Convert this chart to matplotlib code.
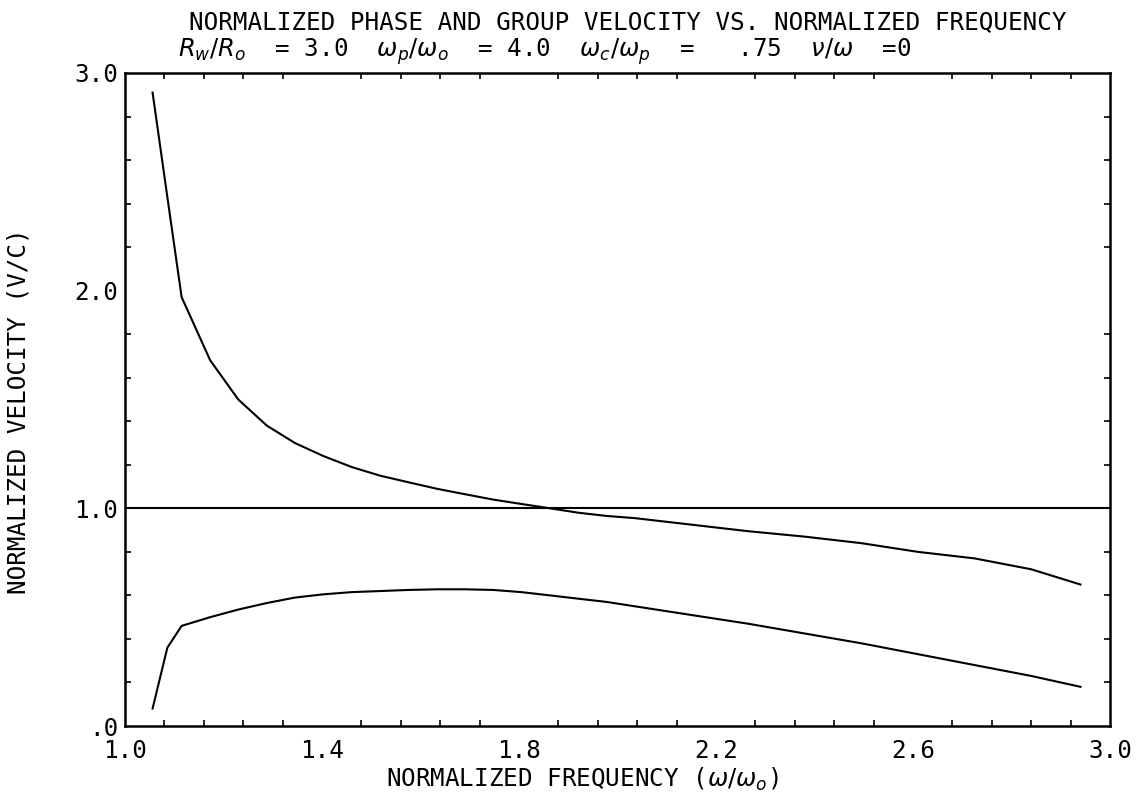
import matplotlib
matplotlib.use("Agg")
import matplotlib.pyplot as plt
import numpy as np

# normalized frequency (w/w0) and the two velocity curves
freq = [1.056, 1.086, 1.115, 1.173, 1.230, 1.288, 1.345, 1.403, 1.460, 1.518,
        1.575, 1.633, 1.690, 1.748, 1.805, 1.863, 1.920, 1.978, 2.035, 2.150,
        2.265, 2.380, 2.495, 2.610, 2.725, 2.840, 2.940]
phase_v = [2.91, 2.43, 1.97, 1.68, 1.50, 1.38, 1.30, 1.24, 1.19, 1.15,
           1.12, 1.09, 1.065, 1.04, 1.02, 1.00, 0.98, 0.965, 0.955, 0.925,
           0.895, 0.87, 0.84, 0.80, 0.77, 0.72, 0.65]
group_v = [0.08, 0.36, 0.46, 0.50, 0.535, 0.565, 0.59, 0.605, 0.615, 0.62,
           0.625, 0.628, 0.628, 0.625, 0.615, 0.60, 0.585, 0.57, 0.55, 0.51,
           0.47, 0.425, 0.38, 0.33, 0.28, 0.23, 0.18]

xticks = [1.0, 1.4, 1.8, 2.2, 2.6, 3.0]
xticklabels = ["1.0", "1.4", "1.8", "2.2", "2.6", "3.0"]
yticks = [0.0, 1.0, 2.0, 3.0]
yticklabels = [".0", "1.0", "2.0", "3.0"]

plt.rcParams["font.family"] = ["DejaVu Sans Mono"]
plt.rcParams["mathtext.fontset"] = "dejavusans"
fs = 17.5

fig = plt.figure(figsize=(11.39, 7.99), dpi=100)
ax = fig.add_axes([125 / 1139, 1 - 726 / 799, (1110 - 125) / 1139, (726 - 73) / 799])

ax.plot(freq, phase_v, color="black", lw=1.5)
ax.plot(freq, group_v, color="black", lw=1.5)
ax.axhline(1.0, color="black", lw=1.5)

ax.set_xlim(1.0, 3.0)
ax.set_ylim(0.0, 3.0)
for s in ax.spines.values():
    s.set_linewidth(1.8)

ax.set_xticks(xticks)
ax.set_xticklabels(xticklabels, fontsize=fs)
ax.set_yticks(yticks)
ax.set_yticklabels(yticklabels, fontsize=fs)
ax.tick_params(which="major", length=0)
ax.tick_params(axis="x", which="major", pad=9)
ax.tick_params(axis="y", which="major", pad=5)
ax.set_xticks(np.arange(1.0, 3.001, 0.08), minor=True)
ax.set_yticks(np.arange(0.0, 3.001, 0.2), minor=True)
ax.tick_params(which="minor", direction="in", length=4, width=1.2,
               top=True, right=True)

fig.text(628 / 1139, 1 - 22 / 799, "NORMALIZED PHASE AND GROUP VELOCITY VS. NORMALIZED FREQUENCY",
         fontsize=fs, ha="center", va="center")
fig.text(178 / 1139, 1 - 52 / 799,
         r"$R_w/R_o$  = 3.0  $\omega_p/\omega_o$  = 4.0  $\omega_c/\omega_p$  =   .75  $\nu/\omega$  =0",
         fontsize=fs, ha="left", va="center")
fig.text(386 / 1139, 1 - 779 / 799, r"NORMALIZED FREQUENCY ($\omega/\omega_o$)",
         fontsize=fs, ha="left", va="center")
fig.text(19 / 1139, 1 - 411 / 799, "NORMALIZED VELOCITY (V/C)",
         fontsize=fs, rotation=90, ha="center", va="center")

fig.savefig("out.png", dpi=100)
